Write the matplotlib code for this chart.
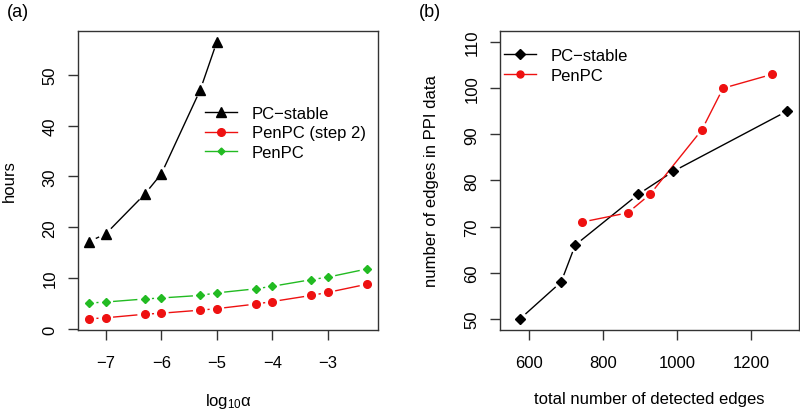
import numpy as np
import matplotlib
matplotlib.use("Agg")
import matplotlib.pyplot as plt
from matplotlib.lines import Line2D

plt.rcParams["font.family"] = ["Liberation Sans", "DejaVu Sans"]
plt.rcParams["mathtext.default"] = "regular"
plt.rcParams["axes.unicode_minus"] = True

# panel (a): run time vs log10(alpha)
log_alpha = [-7.30, -7.0, -6.30, -6.0, -5.30, -5.0, -4.30, -4.0, -3.30, -3.0, -2.30]
pc_stable_hours = [17.2, 18.7, 26.5, 30.5, 47.0, 56.5]
penpc_step2_hours = [2.0, 2.2, 2.9, 3.1, 3.7, 4.0, 4.9, 5.4, 6.6, 7.2, 8.8]
penpc_hours = [5.1, 5.3, 5.9, 6.1, 6.6, 7.1, 7.9, 8.4, 9.7, 10.2, 11.8]

# panel (b): PPI edges vs total detected edges
pc_total = [576, 687, 725, 895, 990, 1296]
pc_ppi = [50, 58, 66, 77, 82, 95]
pen_total = [744, 867, 927, 1067, 1124, 1256]
pen_ppi = [71, 73, 77, 91, 100, 103]

RED = "#EE1111"
GREEN = "#22BB22"
FRAME = "#333333"


def gapped(ax, x, y, color, gap=8):
    # R type="b": line segments with gaps around the points
    pts = ax.transData.transform(np.column_stack([x, y]))
    inv = ax.transData.inverted()
    for p0, p1 in zip(pts[:-1], pts[1:]):
        d = p1 - p0
        L = np.hypot(*d)
        if L <= 2 * gap:
            continue
        u = d / L
        seg = inv.transform([p0 + u * gap, p1 - u * gap])
        ax.plot(seg[:, 0], seg[:, 1], color=color, lw=1)


def style(ax):
    for s in ax.spines.values():
        s.set_color(FRAME)
        s.set_linewidth(1)
    ax.tick_params(length=7, width=1, color=FRAME, labelsize=12)
    ax.tick_params(axis="x", pad=10.8)
    ax.tick_params(axis="y", labelrotation=90, pad=7.9)
    for lbl in ax.get_yticklabels():
        lbl.set_va("center")


fig = plt.figure(figsize=(8, 4.14), dpi=100)
ax1 = fig.add_axes([0.0975, 0.2005, 0.375, 0.7222])
ax2 = fig.add_axes([0.625, 0.2005, 0.37375, 0.7222])

# (a)
ax1.set_xlim(-7.5, -2.1)
ax1.set_ylim(-0.2, 58.6)
ax1.set_xticks([-7, -6, -5, -4, -3])
ax1.set_yticks([0, 10, 20, 30, 40, 50])
style(ax1)
n = len(pc_stable_hours)
gapped(ax1, log_alpha[:n], pc_stable_hours, "black")
gapped(ax1, log_alpha, penpc_step2_hours, RED)
gapped(ax1, log_alpha, penpc_hours, GREEN)
ax1.plot(log_alpha[:n], pc_stable_hours, ls="none", marker="^", ms=7.5, color="black")
ax1.plot(log_alpha, penpc_step2_hours, ls="none", marker="o", ms=5.5, color=RED)
ax1.plot(log_alpha, penpc_hours, ls="none", marker="D", ms=4, color=GREEN)
handles = [
    Line2D([], [], color="black", lw=1, marker="^", ms=7),
    Line2D([], [], color=RED, lw=1, marker="o", ms=5.5),
    Line2D([], [], color=GREEN, lw=1, marker="D", ms=3.5),
]
ax1.legend(handles, ["PC\u2212stable", "PenPC (step 2)", "PenPC"], loc="upper left",
           bbox_to_anchor=(0.423, 0.75), frameon=False, fontsize=12, borderpad=0,
           borderaxespad=0, handlelength=1.9, handletextpad=0.9, labelspacing=0.28)
ax1.set_xlabel("log$_{10}$α", fontsize=12, labelpad=15)
ax1.set_ylabel("hours", fontsize=12, labelpad=18)

# (b)
ax2.set_xlim(522, 1329)
ax2.set_ylim(47.6, 112.4)
ax2.set_xticks([600, 800, 1000, 1200])
ax2.set_yticks([50, 60, 70, 80, 90, 100, 110])
style(ax2)
gapped(ax2, pc_total, pc_ppi, "black")
gapped(ax2, pen_total, pen_ppi, RED)
ax2.plot(pc_total, pc_ppi, ls="none", marker="D", ms=5, color="black")
ax2.plot(pen_total, pen_ppi, ls="none", marker="o", ms=5.5, color=RED)
handles = [
    Line2D([], [], color="black", lw=1, marker="D", ms=5),
    Line2D([], [], color=RED, lw=1, marker="o", ms=5),
]
ax2.legend(handles, ["PC\u2212stable", "PenPC"], loc="upper left",
           bbox_to_anchor=(0.013, 0.943), frameon=False, fontsize=12, borderpad=0,
           borderaxespad=0, handlelength=1.9, handletextpad=0.9, labelspacing=0.28)
ax2.set_xlabel("total number of detected edges", fontsize=12, labelpad=15)
ax2.set_ylabel("number of edges in PPI data", fontsize=12, labelpad=18)

fig.text(0.008, 0.99, "(a)", fontsize=13, va="top", ha="left")
fig.text(0.523, 0.99, "(b)", fontsize=13, va="top", ha="left")

fig.savefig("out.png", dpi=100)
